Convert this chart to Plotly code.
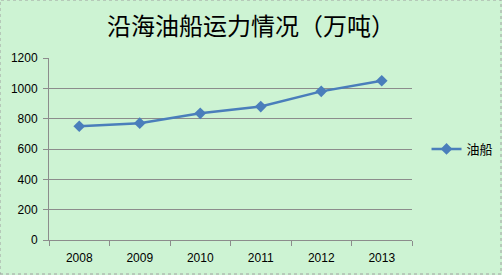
import plotly.graph_objects as go

years = ["2008", "2009", "2010", "2011", "2012", "2013"]
values = [750, 770, 835, 880, 980, 1050]
series_name = "油船"
title = "沿海油船运力情况（万吨）"

fig = go.Figure()
fig.add_trace(go.Scatter(
    x=years, y=values, name=series_name, mode="lines+markers",
    line=dict(color="#4a7ebb", width=2.5),
    marker=dict(symbol="diamond", size=9, color="#4a7ebb"),
))

fig.update_layout(
    width=502, height=275,
    margin=dict(l=49, r=90, t=58, b=35, autoexpand=False),
    paper_bgcolor="#cdf3d3",
    plot_bgcolor="#cdf3d3",
    title=dict(text=title, x=0.5, xanchor="center", y=0.905, yanchor="middle",
               font=dict(family="Noto Sans CJK SC", size=24, color="#000000")),
    font=dict(family="Liberation Sans, Arial", size=12, color="#000000"),
    showlegend=True,
    legend=dict(x=1.04, y=0.5, xanchor="left", yanchor="middle",
                bgcolor="rgba(0,0,0,0)", itemwidth=30,
                font=dict(family="Noto Sans CJK SC", size=13)),
    xaxis=dict(type="category", showgrid=False, showline=True, linecolor="#8c8c8c",
               ticks="outside", tickcolor="#8c8c8c", ticklen=5,
               ticklabelstandoff=7,
               tickson="boundaries", range=[-0.5, 5.5], fixedrange=True),
    yaxis=dict(range=[0, 1200], dtick=200, showgrid=True, gridcolor="#8c8c8c",
               gridwidth=1, showline=True, linecolor="#8c8c8c", ticks="outside",
               tickcolor="#8c8c8c", ticklen=5, zeroline=False,
               ticklabelstandoff=3),
)
fig.add_shape(type="rect", xref="x domain", yref="y domain",
              x0=-49/363, x1=(502-49-1)/363, y0=-34/182, y1=58/182 + 1,
              line=dict(color="#a0a0a0", width=1, dash="dot"), layer="above")

fig.write_html("out.html")
